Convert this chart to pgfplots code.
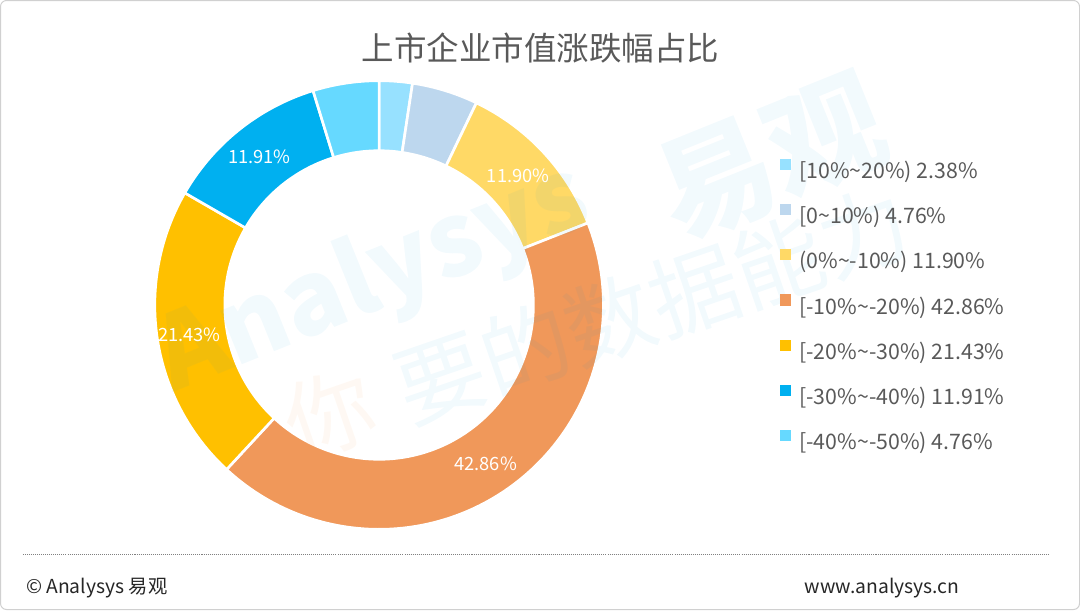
\documentclass[border=0pt]{standalone}
\usepackage{pgfplots}
\pgfplotsset{compat=1.18}
\usepackage{fontspec}
\setmainfont{Noto Sans CJK SC}
\definecolor{c1}{HTML}{97E1FF}
\definecolor{c2}{HTML}{BDD7EE}
\definecolor{c3}{HTML}{FFD966}
\definecolor{c4}{HTML}{F0985A}
\definecolor{c5}{HTML}{FFC000}
\definecolor{c6}{HTML}{00B0F0}
\definecolor{c7}{HTML}{66D9FF}
\definecolor{txtgray}{HTML}{595959}
\definecolor{footgray}{HTML}{262626}
\definecolor{bordergray}{HTML}{D0D0D0}
\definecolor{wmblue}{HTML}{0096D6}
\definecolor{wmorange}{HTML}{F5A05A}
% slice values (percent)
\def\va{2.38}\def\vb{4.76}\def\vc{11.90}\def\vd{42.86}\def\ve{21.43}\def\vf{11.91}\def\vg{4.76}
% #1 start, #2 end (cumulative percent), #3 colour
\newcommand{\slice}[3]{%
  \addplot[fill=#3, draw=white, line width=2.6pt, line join=miter, domain=0:3, samples=361, variable=\t, forget plot]
  ({381 + (221 - 69*max(0,min(1,\t-1)))*cos(90 - 3.6*((#1) + ((#2)-(#1))*min(min(\t,1),3-\t)))},
   {305 + (221 - 69*max(0,min(1,\t-1)))*sin(90 - 3.6*((#1) + ((#2)-(#1))*min(min(\t,1),3-\t)))}) -- cycle;
}
\begin{document}
\begin{tikzpicture}
\begin{axis}[
  width=1080pt, height=608pt, scale only axis,
  xmin=0, xmax=1080, ymin=0, ymax=608,
  hide axis, clip=false,
  legend cell align=left,
  legend image code/.code={\path[#1, draw=none] (0pt,3pt) rectangle (11pt,14pt);},
  legend style={at={(axis cs:776,449)}, anchor=north west, draw=none, fill=none,
    inner sep=0pt, outer sep=0pt, font=\fontsize{21}{25}\selectfont, text=txtgray,
    row sep=20pt, nodes={inner sep=0pt, outer sep=0pt, text height=16pt, text depth=5pt},
    /tikz/every odd column/.append style={column sep=8pt}},
]
\slice{0}{\va}{c1}
\slice{\va}{\va+\vb}{c2}
\slice{\va+\vb}{\va+\vb+\vc}{c3}
\slice{\va+\vb+\vc}{\va+\vb+\vc+\vd}{c4}
\slice{\va+\vb+\vc+\vd}{\va+\vb+\vc+\vd+\ve}{c5}
\slice{\va+\vb+\vc+\vd+\ve}{\va+\vb+\vc+\vd+\ve+\vf}{c6}
\slice{\va+\vb+\vc+\vd+\ve+\vf}{100}{c7}

\addlegendimage{fill=c1}\addlegendentry{[10\%\textasciitilde20\%) 2.38\%}
\addlegendimage{fill=c2}\addlegendentry{[0\textasciitilde10\%) 4.76\%}
\addlegendimage{fill=c3}\addlegendentry{(0\%\textasciitilde-10\%) 11.90\%}
\addlegendimage{fill=c4}\addlegendentry{[-10\%\textasciitilde-20\%) 42.86\%}
\addlegendimage{fill=c5}\addlegendentry{[-20\%\textasciitilde-30\%) 21.43\%}
\addlegendimage{fill=c6}\addlegendentry{[-30\%\textasciitilde-40\%) 11.91\%}
\addlegendimage{fill=c7}\addlegendentry{[-40\%\textasciitilde-50\%) 4.76\%}

% watermark
\node[text=wmblue, opacity=0.05, rotate=22, font=\fontsize{100}{100}\selectfont\bfseries] at (axis cs:375,330) {Analysys};
\node[text=wmblue, opacity=0.05, rotate=22, font=\fontsize{115}{115}\selectfont\bfseries] at (axis cs:767,450) {易观};
\node[text=wmorange, opacity=0.07, rotate=19, font=\fontsize{88}{88}\selectfont] at (axis cs:332,198) {你};
\node[text=wmblue, opacity=0.05, rotate=19, font=\fontsize{88}{88}\selectfont] at (axis cs:650,305) {要的数据能力};

% slice labels
\node[text=white, font=\fontsize{18}{20}\selectfont] at (axis cs:263,451) {11.91\%};
\node[text=white, font=\fontsize{18}{20}\selectfont] at (axis cs:518,432) {11.90\%};
\node[text=white, font=\fontsize{18}{20}\selectfont] at (axis cs:194,276) {21.43\%};
\node[text=white, font=\fontsize{18}{20}\selectfont] at (axis cs:486,149) {42.86\%};

% title
\node[text=txtgray, font=\fontsize{32}{36}\selectfont] at (axis cs:540,558) {上市企业市值涨跌幅占比};

% frame and footer
\draw[bordergray, line width=1pt, rounded corners=6pt] (axis cs:8,5) rectangle (axis cs:1071,605);
\draw[gray, line width=1pt, dash pattern=on 1pt off 1pt] (axis cs:30,59) -- (axis cs:1042,59);
\node[anchor=base west, inner sep=0pt, text=footgray, font=\fontsize{19}{22}\selectfont] at (axis cs:33,21) {© Analysys 易观};
\node[anchor=base east, inner sep=0pt, text=footgray, font=\fontsize{19}{22}\selectfont] at (axis cs:953,21) {www.analysys.cn};
\end{axis}
\end{tikzpicture}
\end{document}
